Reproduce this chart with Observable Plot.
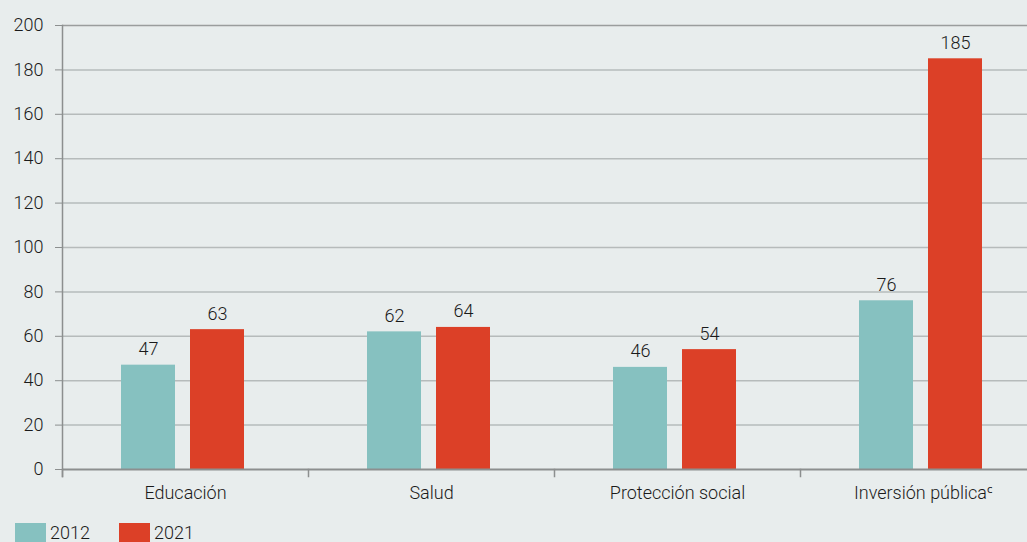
<!DOCTYPE html>
<html>
<head>
<meta charset="utf-8">
<script src="https://cdn.jsdelivr.net/npm/d3@7"></script>
<script src="https://cdn.jsdelivr.net/npm/@observablehq/plot@0.6"></script>
<style>
  html, body { margin: 0; padding: 0; background: #e8eded; overflow: hidden; }
  body { width: 1027px; height: 542px; font-family: Roboto, "DejaVu Sans Condensed", sans-serif; font-weight: 300; color: #1a1a1a; }
  #chart { width: 1027px; height: 505px; overflow: hidden; }
  #legend { display: flex; align-items: flex-start; margin: 18px 0 0 15px; font-size: 18px; line-height: 18px; }
  .item { display: flex; align-items: flex-start; margin-right: 29px; }
  .sw { width: 31px; height: 19px; margin-right: 4px; }
  .item span { margin-top: 1px; }
</style>
</head>
<body>
<div id="chart"></div>
<div id="legend"></div>
<script>
const categories = ["Educación", "Salud", "Protección social", "Inversión públicaᶜ"];
const years = ["2012", "2021"];
const values2012 = [47, 62, 46, 76];
const values2021 = [63, 64, 54, 185];
const yTicks = [0, 20, 40, 60, 80, 100, 120, 140, 160, 180, 200];
const colors = ["#86c1c0", "#dc4027"];

const data = [];
categories.forEach((c, i) => {
  data.push({cat: c, year: years[0], value: values2012[i]});
  data.push({cat: c, year: years[1], value: values2021[i]});
});

const fontFamily = 'Roboto, "DejaVu Sans Condensed", sans-serif';

const chart = Plot.plot({
  width: 1046,
  height: 505,
  marginLeft: 62,
  marginRight: 0,
  marginTop: 25,
  marginBottom: 36,
  style: {background: "transparent", fontFamily, fontSize: "18px", fontWeight: 300, color: "#1a1a1a", overflow: "hidden", maxWidth: "none"},
  fx: {domain: categories, padding: 0, label: null, tickSize: 0, tickPadding: 17},
  x: {domain: years, paddingInner: 15 / 69, paddingOuter: 0.8913, align: 0.48, axis: null},
  y: {domain: [0, 200], axis: null},
  color: {domain: years, range: colors},
  marks: [
    Plot.ruleY(yTicks.filter(v => v > 0 && v < 200), {stroke: "#b6bbbb", strokeWidth: 1.5}),
    Plot.ruleY([200], {stroke: "#9a9d9d", strokeWidth: 1.5}),
    Plot.barY(data, {fx: "cat", x: "year", y: "value", fill: "year"}),
    Plot.ruleY([0], {stroke: "#8c8f8f", strokeWidth: 2}),
    Plot.frame({anchor: "left", facetAnchor: "left", stroke: "#8c8f8f", strokeWidth: 1.5, insetBottom: -7}),
    Plot.frame({anchor: "left", stroke: "#8c8f8f", strokeWidth: 1.5, insetTop: 444, insetBottom: -7}),
    Plot.axisY({ticks: yTicks, tickSize: 7, tickPadding: 12, stroke: "#8c8f8f", fill: "#1a1a1a", label: null, fontSize: 18}),
    Plot.text(data, {fx: "cat", x: "year", y: "value", text: d => String(d.value), lineAnchor: "bottom", dy: -10, fill: "#1a1a1a", fontSize: 18})
  ]
});
document.getElementById("chart").appendChild(chart);

const legend = document.getElementById("legend");
years.forEach((y, i) => {
  const item = document.createElement("div");
  item.className = "item";
  const sw = document.createElement("div");
  sw.className = "sw";
  sw.style.background = colors[i];
  const t = document.createElement("span");
  t.textContent = y;
  item.appendChild(sw);
  item.appendChild(t);
  legend.appendChild(item);
});
</script>
</body>
</html>
